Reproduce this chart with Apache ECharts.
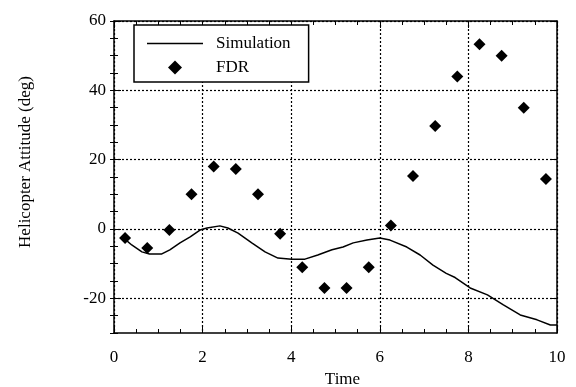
<!DOCTYPE html>
<html>
<head>
<meta charset="utf-8">
<script src="https://cdn.jsdelivr.net/npm/echarts@6/dist/echarts.min.js"></script>
<style>html,body{margin:0;padding:0;background:#fff}#c{width:576px;height:387px}</style>
</head>
<body>
<div id="c"></div>
<script>
const simX = [0.2, 0.4, 0.63, 0.8, 1.08, 1.26, 1.49, 1.72, 1.94, 2.1, 2.39, 2.57, 2.8, 3.11, 3.41, 3.7, 4.01, 4.31, 4.6, 4.92, 5.17, 5.4, 5.71, 6.0, 6.23, 6.61, 6.91, 7.2, 7.5, 7.7, 8.04, 8.43, 8.79, 9.17, 9.55, 9.85, 10.0];
const simY = [-2.4, -4.6, -6.6, -7.2, -7.2, -6.0, -4.0, -2.3, -0.3, 0.3, 0.9, 0.3, -1.2, -4.0, -6.6, -8.4, -8.7, -8.7, -7.5, -6.0, -5.2, -4.0, -3.2, -2.6, -3.2, -5.2, -7.5, -10.4, -12.8, -14.0, -17.0, -19.0, -21.9, -24.8, -26.2, -27.7, -27.7];
const fdrX = [0.25, 0.75, 1.25, 1.75, 2.25, 2.75, 3.25, 3.75, 4.25, 4.75, 5.25, 5.75, 6.25, 6.75, 7.25, 7.75, 8.25, 8.75, 9.25, 9.75];
const fdrY = [-2.6, -5.5, -0.3, 10.0, 18.0, 17.3, 10.0, -1.4, -11.0, -17.0, -17.0, -11.0, 1.0, 15.3, 29.7, 44.0, 53.3, 50.0, 35.0, 14.4];
const yMajorTicks = [-20, 0, 20, 40, 60];
const xTitle = 'Time';
const yTitle = 'Helicopter Attitude (deg)';

const FONT = 'Liberation Serif';
const FS = 17;
const black = '#000';
const simData = simX.map((x, i) => [x, simY[i]]);
const fdrData = fdrX.map((x, i) => [x, fdrY[i]]);

const gridLine = { show: true, lineStyle: { color: black, type: [2, 2], width: 1.2 } };
const axLine = { show: true, onZero: false, lineStyle: { color: black, width: 1.5 } };

const chart = echarts.init(document.getElementById('c'), null, { renderer: 'canvas' });
chart.setOption({
  backgroundColor: '#fff',
  animation: false,
  grid: { left: 114, right: 19, top: 21, bottom: 54, containLabel: false, outerBoundsMode: 'none' },
  legend: {
    left: 134, top: 25, orient: 'vertical',
    backgroundColor: '#fff', borderColor: black, borderWidth: 1.5, borderRadius: 0,
    padding: [10, 18, 6, 13], itemGap: 7, itemWidth: 56, itemHeight: 14,
    symbolKeepAspect: true,
    textStyle: { fontFamily: FONT, fontSize: FS, color: black, padding: [0, 0, 0, 8] },
    data: [
      { name: 'Simulation', icon: 'path://M0,0L56,0L56,1.5L0,1.5Z' },
      { name: 'FDR', icon: 'path://M0,-1L1,0L0,1L-1,0Z' }
    ]
  },
  xAxis: [
    {
      type: 'value', min: 0, max: 10, interval: 2, position: 'bottom',
      axisLine: axLine,
      axisTick: { show: true, inside: true, length: 7, lineStyle: { color: black } },
      minorTick: { show: true, splitNumber: 4, length: 4, lineStyle: { color: black } },
      axisLabel: { fontFamily: FONT, fontSize: FS, color: black, margin: 16 },
      splitLine: gridLine,
      name: xTitle, nameLocation: 'middle', nameGap: 35,
      nameTextStyle: { fontFamily: FONT, fontSize: FS, color: black, padding: [0, 0, 0, 14] }
    },
    {
      type: 'value', min: 0, max: 10, interval: 2, position: 'top',
      axisLine: axLine,
      axisTick: { show: true, inside: true, length: 7, lineStyle: { color: black } },
      minorTick: { show: true, splitNumber: 4, length: 4, lineStyle: { color: black } },
      axisLabel: { show: false }, splitLine: { show: false }
    }
  ],
  yAxis: [
    {
      type: 'value', min: -30, max: 60, position: 'left',
      axisLine: axLine,
      axisTick: { show: true, inside: true, length: 7, customValues: yMajorTicks, lineStyle: { color: black } },
      axisLabel: { fontFamily: FONT, fontSize: FS, color: black, margin: 8, customValues: yMajorTicks },
      splitLine: gridLine,
      name: yTitle, nameLocation: 'middle', nameGap: 80, nameRotate: 90,
      nameTextStyle: { fontFamily: FONT, fontSize: FS, color: black, padding: [0, 0, 0, 30] }
    },
    {
      type: 'value', min: -30, max: 60, interval: 5, position: 'left',
      axisLine: { show: false },
      axisTick: { show: true, inside: true, length: 4, lineStyle: { color: black } },
      axisLabel: { show: false }, splitLine: { show: false }
    },
    {
      type: 'value', min: -30, max: 60, position: 'right',
      axisLine: axLine,
      axisTick: { show: true, inside: true, length: 7, customValues: yMajorTicks, lineStyle: { color: black } },
      axisLabel: { show: false }, splitLine: { show: false }
    },
    {
      type: 'value', min: -30, max: 60, interval: 5, position: 'right',
      axisLine: { show: false },
      axisTick: { show: true, inside: true, length: 4, lineStyle: { color: black } },
      axisLabel: { show: false }, splitLine: { show: false }
    }
  ],
  series: [
    {
      name: 'Simulation', type: 'line', data: simData, xAxisIndex: 0, yAxisIndex: 0,
      showSymbol: false, symbol: 'none',
      lineStyle: { color: black, width: 1.5 }, itemStyle: { color: black }
    },
    {
      name: 'FDR', type: 'scatter', data: fdrData, xAxisIndex: 0, yAxisIndex: 0,
      symbol: 'diamond', symbolSize: 12, itemStyle: { color: black, opacity: 1 }
    }
  ]
});
</script>
</body>
</html>
